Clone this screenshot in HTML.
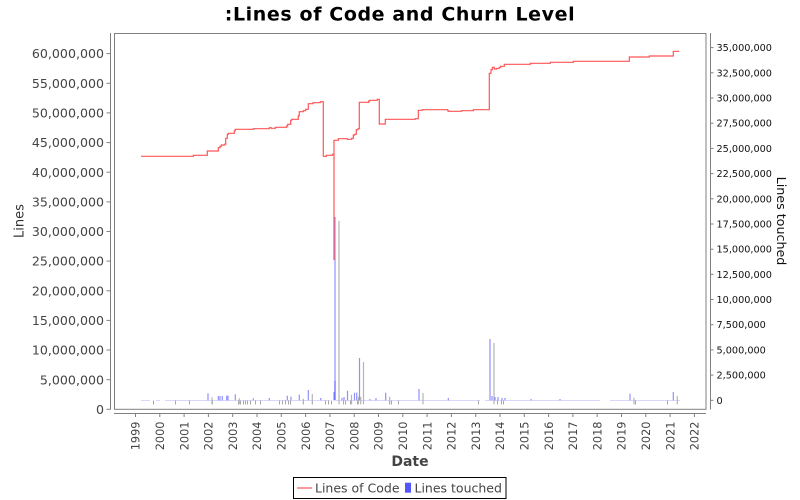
<!DOCTYPE html>
<html><head><meta charset="utf-8"><style>
html,body{margin:0;padding:0;background:#fff;}
svg{display:block;}
text{font-family:"DejaVu Sans","Liberation Sans",sans-serif;}
</style></head><body>
<svg width="800" height="500" viewBox="0 0 800 500" xmlns="http://www.w3.org/2000/svg">
<rect x="0" y="0" width="800" height="500" fill="#fff"/>
<!-- title -->
<text x="400" y="20.5" text-anchor="middle" font-size="19" font-weight="bold" letter-spacing="0.6" fill="#000">:Lines of Code and Churn Level</text>

<!-- plot border -->
<rect x="114.5" y="33.5" width="591.5" height="375.8" fill="#fff" stroke="#808080" stroke-width="1"/>

<!-- left axis -->
<g stroke="#808080" stroke-width="1">
<line x1="110.5" y1="33" x2="110.5" y2="409.5"/>
<line x1="106.5" y1="53.6" x2="110.5" y2="53.6"/>
<line x1="106.5" y1="83.3" x2="110.5" y2="83.3"/>
<line x1="106.5" y1="112.9" x2="110.5" y2="112.9"/>
<line x1="106.5" y1="142.6" x2="110.5" y2="142.6"/>
<line x1="106.5" y1="172.2" x2="110.5" y2="172.2"/>
<line x1="106.5" y1="201.9" x2="110.5" y2="201.9"/>
<line x1="106.5" y1="231.5" x2="110.5" y2="231.5"/>
<line x1="106.5" y1="261.1" x2="110.5" y2="261.1"/>
<line x1="106.5" y1="290.8" x2="110.5" y2="290.8"/>
<line x1="106.5" y1="320.4" x2="110.5" y2="320.4"/>
<line x1="106.5" y1="350.0" x2="110.5" y2="350.0"/>
<line x1="106.5" y1="379.7" x2="110.5" y2="379.7"/>
<line x1="106.5" y1="409.3" x2="110.5" y2="409.3"/>
</g>
<g font-size="12.6" fill="#444" text-anchor="end">
<text x="104" y="58.2">60,000,000</text>
<text x="104" y="87.9">55,000,000</text>
<text x="104" y="117.5">50,000,000</text>
<text x="104" y="147.2">45,000,000</text>
<text x="104" y="176.8">40,000,000</text>
<text x="104" y="206.5">35,000,000</text>
<text x="104" y="236.1">30,000,000</text>
<text x="104" y="265.7">25,000,000</text>
<text x="104" y="295.4">20,000,000</text>
<text x="104" y="325.0">15,000,000</text>
<text x="104" y="354.6">10,000,000</text>
<text x="104" y="384.3">5,000,000</text>
<text x="104" y="413.9">0</text>
</g>
<text transform="translate(23.5,221) rotate(-90)" text-anchor="middle" font-size="13" fill="#333">Lines</text>

<!-- right axis -->
<g stroke="#808080" stroke-width="1">
<line x1="710.5" y1="33" x2="710.5" y2="409.5"/>
<line x1="710.5" y1="47.6" x2="713.5" y2="47.6"/>
<line x1="710.5" y1="72.8" x2="713.5" y2="72.8"/>
<line x1="710.5" y1="98.0" x2="713.5" y2="98.0"/>
<line x1="710.5" y1="123.2" x2="713.5" y2="123.2"/>
<line x1="710.5" y1="148.4" x2="713.5" y2="148.4"/>
<line x1="710.5" y1="173.6" x2="713.5" y2="173.6"/>
<line x1="710.5" y1="198.8" x2="713.5" y2="198.8"/>
<line x1="710.5" y1="224.0" x2="713.5" y2="224.0"/>
<line x1="710.5" y1="249.2" x2="713.5" y2="249.2"/>
<line x1="710.5" y1="274.3" x2="713.5" y2="274.3"/>
<line x1="710.5" y1="299.5" x2="713.5" y2="299.5"/>
<line x1="710.5" y1="324.7" x2="713.5" y2="324.7"/>
<line x1="710.5" y1="349.9" x2="713.5" y2="349.9"/>
<line x1="710.5" y1="375.1" x2="713.5" y2="375.1"/>
<line x1="710.5" y1="400.3" x2="713.5" y2="400.3"/>
</g>
<g font-size="9.7" fill="#111" text-anchor="start">
<text x="716.5" y="51.1">35,000,000</text>
<text x="716.5" y="76.3">32,500,000</text>
<text x="716.5" y="101.5">30,000,000</text>
<text x="716.5" y="126.7">27,500,000</text>
<text x="716.5" y="151.9">25,000,000</text>
<text x="716.5" y="177.1">22,500,000</text>
<text x="716.5" y="202.3">20,000,000</text>
<text x="716.5" y="227.5">17,500,000</text>
<text x="716.5" y="252.7">15,000,000</text>
<text x="716.5" y="277.8">12,500,000</text>
<text x="716.5" y="303.0">10,000,000</text>
<text x="716.5" y="328.2">7,500,000</text>
<text x="716.5" y="353.4">5,000,000</text>
<text x="716.5" y="378.6">2,500,000</text>
<text x="716.5" y="403.8">0</text>
</g>
<text transform="translate(777,221) rotate(90)" text-anchor="middle" font-size="12.7" fill="#111">Lines touched</text>

<!-- x axis -->
<g stroke="#808080" stroke-width="1">
<line x1="114" y1="413.5" x2="706" y2="413.5"/>
</g>
<g stroke="#808080" stroke-width="1" id="xt">
<line x1="135.5" y1="413.5" x2="135.5" y2="417"/>
<line x1="159.8" y1="413.5" x2="159.8" y2="417"/>
<line x1="184.1" y1="413.5" x2="184.1" y2="417"/>
<line x1="208.4" y1="413.5" x2="208.4" y2="417"/>
<line x1="232.7" y1="413.5" x2="232.7" y2="417"/>
<line x1="257.0" y1="413.5" x2="257.0" y2="417"/>
<line x1="281.3" y1="413.5" x2="281.3" y2="417"/>
<line x1="305.6" y1="413.5" x2="305.6" y2="417"/>
<line x1="329.9" y1="413.5" x2="329.9" y2="417"/>
<line x1="354.2" y1="413.5" x2="354.2" y2="417"/>
<line x1="378.5" y1="413.5" x2="378.5" y2="417"/>
<line x1="402.8" y1="413.5" x2="402.8" y2="417"/>
<line x1="427.1" y1="413.5" x2="427.1" y2="417"/>
<line x1="451.4" y1="413.5" x2="451.4" y2="417"/>
<line x1="475.7" y1="413.5" x2="475.7" y2="417"/>
<line x1="500.0" y1="413.5" x2="500.0" y2="417"/>
<line x1="524.3" y1="413.5" x2="524.3" y2="417"/>
<line x1="548.6" y1="413.5" x2="548.6" y2="417"/>
<line x1="572.9" y1="413.5" x2="572.9" y2="417"/>
<line x1="597.2" y1="413.5" x2="597.2" y2="417"/>
<line x1="621.5" y1="413.5" x2="621.5" y2="417"/>
<line x1="645.8" y1="413.5" x2="645.8" y2="417"/>
<line x1="670.1" y1="413.5" x2="670.1" y2="417"/>
<line x1="694.4" y1="413.5" x2="694.4" y2="417"/>
</g>
<g font-size="11.3" fill="#444" text-anchor="end">
<text transform="translate(139.7,421.5) rotate(-90)">1999</text>
<text transform="translate(164.0,421.5) rotate(-90)">2000</text>
<text transform="translate(188.3,421.5) rotate(-90)">2001</text>
<text transform="translate(212.6,421.5) rotate(-90)">2002</text>
<text transform="translate(236.9,421.5) rotate(-90)">2003</text>
<text transform="translate(261.2,421.5) rotate(-90)">2004</text>
<text transform="translate(285.5,421.5) rotate(-90)">2005</text>
<text transform="translate(309.8,421.5) rotate(-90)">2006</text>
<text transform="translate(334.1,421.5) rotate(-90)">2007</text>
<text transform="translate(358.4,421.5) rotate(-90)">2008</text>
<text transform="translate(382.7,421.5) rotate(-90)">2009</text>
<text transform="translate(407.0,421.5) rotate(-90)">2010</text>
<text transform="translate(431.3,421.5) rotate(-90)">2011</text>
<text transform="translate(455.6,421.5) rotate(-90)">2012</text>
<text transform="translate(479.9,421.5) rotate(-90)">2013</text>
<text transform="translate(504.2,421.5) rotate(-90)">2014</text>
<text transform="translate(528.5,421.5) rotate(-90)">2015</text>
<text transform="translate(552.8,421.5) rotate(-90)">2016</text>
<text transform="translate(577.1,421.5) rotate(-90)">2017</text>
<text transform="translate(601.4,421.5) rotate(-90)">2018</text>
<text transform="translate(625.7,421.5) rotate(-90)">2019</text>
<text transform="translate(650.0,421.5) rotate(-90)">2020</text>
<text transform="translate(674.3,421.5) rotate(-90)">2021</text>
<text transform="translate(698.6,421.5) rotate(-90)">2022</text>
</g>
<text x="410" y="466" text-anchor="middle" font-size="14" font-weight="bold" fill="#444">Date</text>

<!-- faint baseline of tiny bars -->
<g stroke="#d8d8ff" stroke-width="1">
<line x1="141" y1="400.5" x2="150" y2="400.5"/>
<line x1="156" y1="400.5" x2="160" y2="400.5"/>
<line x1="165" y1="400.5" x2="330" y2="400.5"/>
<line x1="336" y1="400.5" x2="480" y2="400.5"/>
<line x1="485" y1="400.5" x2="600" y2="400.5"/>
<line x1="610" y1="400.5" x2="680" y2="400.5"/>
</g>
<!-- shadows below baseline -->
<g stroke="#a8a8a8" stroke-width="1">
<line x1="153.5" y1="400.5" x2="153.5" y2="404.5"/>
<line x1="175.5" y1="400.5" x2="175.5" y2="404.5"/>
<line x1="189.5" y1="400.5" x2="189.5" y2="404.5"/>
<line x1="212.5" y1="400.5" x2="212.5" y2="404.5"/>
<line x1="238.5" y1="400.5" x2="238.5" y2="404.5"/>
<line x1="240.5" y1="400.5" x2="240.5" y2="404.5"/>
<line x1="243.5" y1="400.5" x2="243.5" y2="404.5"/>
<line x1="245.5" y1="400.5" x2="245.5" y2="404.5"/>
<line x1="247.5" y1="400.5" x2="247.5" y2="404.5"/>
<line x1="250.5" y1="400.5" x2="250.5" y2="404.5"/>
<line x1="255.5" y1="400.5" x2="255.5" y2="404.5"/>
<line x1="260.5" y1="400.5" x2="260.5" y2="404.5"/>
<line x1="279.5" y1="400.5" x2="279.5" y2="404.5"/>
<line x1="282.5" y1="400.5" x2="282.5" y2="404.5"/>
<line x1="285.5" y1="400.5" x2="285.5" y2="404.5"/>
<line x1="288.5" y1="400.5" x2="288.5" y2="404.5"/>
<line x1="290.5" y1="400.5" x2="290.5" y2="404.5"/>
<line x1="303.5" y1="400.5" x2="303.5" y2="404.5"/>
<line x1="312.5" y1="400.5" x2="312.5" y2="404.5"/>
<line x1="325.5" y1="400.5" x2="325.5" y2="404.5"/>
<line x1="328.5" y1="400.5" x2="328.5" y2="404.5"/>
<line x1="331.5" y1="400.5" x2="331.5" y2="404.5"/>
<line x1="343.5" y1="400.5" x2="343.5" y2="404.5"/>
<line x1="345.5" y1="400.5" x2="345.5" y2="404.5"/>
<line x1="350.5" y1="400.5" x2="350.5" y2="404.5"/>
<line x1="357.5" y1="400.5" x2="357.5" y2="404.5"/>
<line x1="389.5" y1="400.5" x2="389.5" y2="404.5"/>
<line x1="391.5" y1="400.5" x2="391.5" y2="404.5"/>
<line x1="398.5" y1="400.5" x2="398.5" y2="404.5"/>
<line x1="478.5" y1="400.5" x2="478.5" y2="404.5"/>
<line x1="497.5" y1="400.5" x2="497.5" y2="404.5"/>
<line x1="501.5" y1="400.5" x2="501.5" y2="404.5"/>
<line x1="503.5" y1="400.5" x2="503.5" y2="404.5"/>
<line x1="635.5" y1="400.5" x2="635.5" y2="404.5"/>
<line x1="667.5" y1="400.5" x2="667.5" y2="404.5"/>
</g>
<!-- bar shadows -->
<g stroke="#b4b4b4" stroke-width="1.2">
<line x1="339" y1="221" x2="339" y2="404.3"/>
<line x1="363.5" y1="362" x2="363.5" y2="404.3"/>
<line x1="494" y1="343" x2="494" y2="404.3"/>
<line x1="423" y1="393" x2="423" y2="404.3"/>
<line x1="351.5" y1="394.7" x2="351.5" y2="404.3"/>
<line x1="358.5" y1="396.7" x2="358.5" y2="404.3"/>
<line x1="360.7" y1="396.7" x2="360.7" y2="404.3"/>
<line x1="389.7" y1="396.7" x2="389.7" y2="404.3"/>
<line x1="634" y1="397.7" x2="634" y2="404.3"/>
<line x1="677.3" y1="396" x2="677.3" y2="404.3"/>
<line x1="212" y1="397.3" x2="212" y2="404.3"/>
<line x1="239.3" y1="398.3" x2="239.3" y2="404.3"/>
<line x1="303.3" y1="398.7" x2="303.3" y2="404.3"/>
<line x1="312.3" y1="394" x2="312.3" y2="404.3"/>
</g>
<!-- bars -->
<g stroke="#5555ff" stroke-opacity="0.65" stroke-width="1.2">
<line x1="335" y1="217" x2="335" y2="400.3"/>
<line x1="335" y1="381" x2="335" y2="400.3"/>
<line x1="334" y1="392" x2="334" y2="400.3"/>
<line x1="359.5" y1="358" x2="359.5" y2="400.3"/>
<line x1="490" y1="339" x2="490" y2="400.3"/>
<line x1="419" y1="389" x2="419" y2="400.3"/>
<line x1="347.5" y1="390.7" x2="347.5" y2="400.3"/>
<line x1="354.5" y1="392.7" x2="354.5" y2="400.3"/>
<line x1="356.7" y1="392.7" x2="356.7" y2="400.3"/>
<line x1="385.7" y1="392.7" x2="385.7" y2="400.3"/>
<line x1="630" y1="393.7" x2="630" y2="400.3"/>
<line x1="673.3" y1="392" x2="673.3" y2="400.3"/>
<line x1="208" y1="393.3" x2="208" y2="400.3"/>
<line x1="218.3" y1="396" x2="218.3" y2="400.3"/>
<line x1="220" y1="396" x2="220" y2="400.3"/>
<line x1="222.3" y1="396" x2="222.3" y2="400.3"/>
<line x1="226.7" y1="395.7" x2="226.7" y2="400.3"/>
<line x1="228" y1="395.7" x2="228" y2="400.3"/>
<line x1="235.3" y1="394.3" x2="235.3" y2="400.3"/>
<line x1="253.3" y1="398.3" x2="253.3" y2="400.3"/>
<line x1="269.3" y1="398" x2="269.3" y2="400.3"/>
<line x1="287.3" y1="395.7" x2="287.3" y2="400.3"/>
<line x1="291" y1="396.7" x2="291" y2="400.3"/>
<line x1="299.3" y1="394.7" x2="299.3" y2="400.3"/>
<line x1="308.3" y1="390" x2="308.3" y2="400.3"/>
<line x1="320.7" y1="398" x2="320.7" y2="400.3"/>
<line x1="342" y1="398" x2="342" y2="400.3"/>
<line x1="344" y1="397" x2="344" y2="400.3"/>
<line x1="370" y1="399" x2="370" y2="400.3"/>
<line x1="376" y1="398" x2="376" y2="400.3"/>
<line x1="448.3" y1="398" x2="448.3" y2="400.3"/>
<line x1="492" y1="396" x2="492" y2="400.3"/>
<line x1="495" y1="397" x2="495" y2="400.3"/>
<line x1="498" y1="397" x2="498" y2="400.3"/>
<line x1="502" y1="398" x2="502" y2="400.3"/>
<line x1="505" y1="398" x2="505" y2="400.3"/>
<line x1="531" y1="399" x2="531" y2="400.3"/>
<line x1="560" y1="399" x2="560" y2="400.3"/>
</g>

<!-- lines of code -->
<polyline fill="none" stroke="#ff5555" stroke-width="1.2" stroke-linejoin="miter" points="141,156.3 193.3,156.3 193.3,155.3 207.3,155.3 207.3,151 218.3,151 218.3,147.7 220,147.7 220,146.3 221.3,146.3 221.3,145 225,145 225,144 225.7,144 225.7,138.3 227.3,138.3 227.3,134.3 228.3,134.3 228.3,133.3 234.3,133.3 234.3,130.7 235.3,130.7 235.3,129.3 253.3,129.3 253.3,128.7 269.3,128.7 269.3,127.7 271.3,127.7 271.3,128.3 275.3,128.3 275.3,127.3 286.7,127.3 286.7,126 287.7,126 287.7,124.3 290.7,124.3 290.7,120.3 291.7,120.3 291.7,119.3 298.3,119.3 298.3,115.7 299.3,115.7 299.3,111.7 303.3,111.7 303.3,110.7 305.7,110.7 305.7,109.3 308.3,109.3 308.3,103.7 313,103.7 313,102.7 320.3,102.7 320.3,101.7 323.3,101.7 323.3,156.3 326.3,156.3 326.3,155.3 332.3,155.3 332.3,154.3 334,154.3 334,260 334,140.3 338.3,140.3 338.3,138.7 347.3,138.7 347.3,139.3 351.7,139.3 351.7,138.3 353.3,138.3 353.3,135 354.7,135 354.7,134.3 356.3,134.3 356.3,129.7 358,129.7 358,128.7 359.3,128.7 359.3,102.3 368.7,102.3 368.7,101 369.7,101 369.7,100.3 377.3,100.3 377.3,99.3 379.3,99.3 379.3,124 385.3,124 385.3,119.3 415.3,119.3 415.3,118.7 418.3,118.7 418.3,110.3 422.3,110.3 422.3,109.7 447.7,109.7 447.7,110.7 448.3,110.7 448.3,111.3 461.3,111.3 461.3,110.7 473.3,110.7 473.3,109.7 489.3,109.7 489.3,73.3 491,73.3 491,69.7 492.3,69.7 492.3,67.3 494.3,67.3 494.3,69 496.7,69 496.7,68.3 499.3,68.3 499.3,67.3 500.7,67.3 500.7,66.3 504.3,66.3 504.3,64.3 530.3,64.3 530.3,63.3 550.3,63.3 550.3,62.3 573.3,62.3 573.3,61.3 629.3,61.3 629.3,57 649.3,57 649.3,56 673.3,56 673.3,51.3 679.3,51.3"/>

<!-- legend -->
<rect x="293.5" y="477.5" width="212.5" height="21" fill="#fff" stroke="#000" stroke-width="1"/>
<line x1="297" y1="488" x2="312" y2="488" stroke="#ff5555" stroke-width="1.2"/>
<text x="315" y="492.5" font-size="12.5" fill="#444">Lines of Code</text>
<rect x="405" y="482.7" width="6" height="10" fill="#5555ff"/>
<text x="414.5" y="492.5" font-size="12.5" fill="#444">Lines touched</text>
</svg>
</body></html>
